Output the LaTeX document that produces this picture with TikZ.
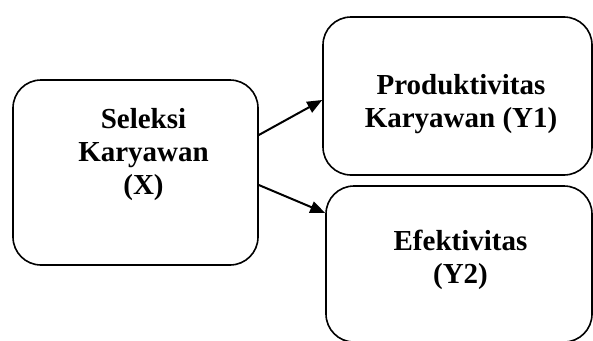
\documentclass[tikz,border=0pt]{standalone}
\usepackage{fontspec}
\setmainfont{Liberation Serif}
\usetikzlibrary{arrows.meta}
\begin{document}
\begin{tikzpicture}[x=1pt,y=-1pt,
  box/.style={draw=black,line width=1.6pt,rounded corners=28pt,inner sep=0pt},
  lbl/.style={font=\bfseries\fontsize{29}{33}\selectfont,align=center,inner sep=0pt},
  arr/.style={line width=2pt,-{Triangle[length=15pt,width=12pt]}}]
\useasboundingbox (0,0) rectangle (593,340);
\node[box,minimum width=245pt,minimum height=185pt] (L) at (135.5,172.5) {};
\node[box,minimum width=269pt,minimum height=158pt] (A) at (457.5,96) {};
\node[box,minimum width=266pt,minimum height=156pt] (B) at (459,264) {};
\node[lbl] (Lt) at (143.5,154.5) {Seleksi\\Karyawan\\(X)};
\node[lbl] (At) at (461,104) {Produktivitas\\Karyawan (Y1)};
\node[lbl] (Bt) at (460.5,259.5) {Efektivitas\\(Y2)};
\draw[arr] ([yshift=37.5pt]L.east) -- ([yshift=-4pt]A.west);
\draw[arr] ([yshift=-12.5pt]L.east) -- ([yshift=51pt,xshift=0pt]B.west);
\end{tikzpicture}
\end{document}
